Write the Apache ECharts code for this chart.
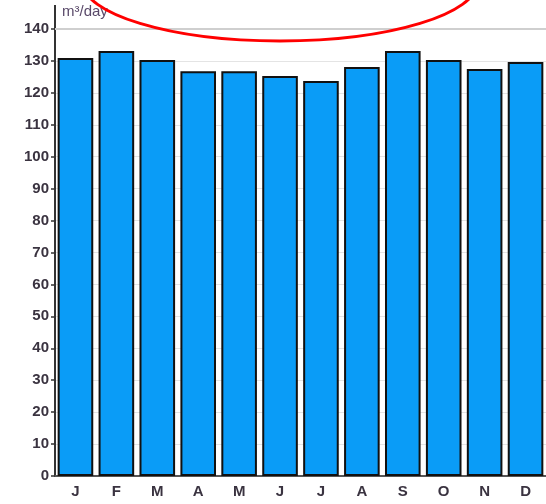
<!DOCTYPE html>
<html>
<head>
<meta charset="utf-8">
<script src="https://cdn.jsdelivr.net/npm/echarts@6/dist/echarts.min.js"></script>
<style>
  html, body { margin: 0; padding: 0; background: #fff; }
  #chart { width: 546px; height: 504px; }
</style>
</head>
<body>
<div id="chart"></div>
<script>
// monthly flow, m³/day
const months = ['J', 'F', 'M', 'A', 'M', 'J', 'J', 'A', 'S', 'O', 'N', 'D'];
const flow = [130.9, 133.1, 130.3, 126.8, 126.8, 125.3, 123.7, 128.1, 133.1, 130.3, 127.5, 129.7];
const yTicks = [0, 10, 20, 30, 40, 50, 60, 70, 80, 90, 100, 110, 120, 130, 140];

const chart = echarts.init(document.getElementById('chart'));

const labelFont = { color: '#3a3340', fontFamily: 'Arial, Liberation Sans', fontWeight: 'bold', fontSize: 15 };

const option = {
  animation: false,
  grid: { left: 55, top: 29, right: -4, bottom: 28, containLabel: false },
  xAxis: {
    type: 'category',
    data: months,
    axisLine: { lineStyle: { color: '#555', width: 2 } },
    axisTick: { show: false },
    axisLabel: Object.assign({ margin: 8 }, labelFont)
  },
  yAxis: {
    type: 'value',
    min: yTicks[0],
    max: yTicks[yTicks.length - 1],
    interval: 10,
    axisLine: { show: true, lineStyle: { color: '#333', width: 2 } },
    axisTick: { show: true, length: 4, lineStyle: { color: '#333', width: 1.5 } },
    axisLabel: Object.assign({ margin: 6 }, labelFont),
    splitLine: { show: true, lineStyle: { color: '#e4e4e4', width: 1 } }
  },
  series: [{
    type: 'bar',
    data: flow,
    barCategoryGap: '13%',
    itemStyle: { color: '#0a9cf7', borderColor: '#111', borderWidth: 2 },
    // the top line of the plot is a bit heavier
    markLine: {
      silent: true,
      symbol: 'none',
      label: { show: false },
      lineStyle: { color: '#cfcfcf', width: 2, type: 'solid' },
      data: [{ yAxis: yTicks[yTicks.length - 1] }]
    }
  }],
  graphic: [
    // axis continues above the 140 line
    { type: 'line', shape: { x1: 55, y1: 5, x2: 55, y2: 29 }, style: { stroke: '#333', lineWidth: 2 } },
    { type: 'text', left: 62, top: 4, style: { text: 'm³/day', fill: '#5a4a6a', font: '15px Arial, Liberation Sans' } },
    // red annotation ring
    { type: 'ellipse', shape: { cx: 280, cy: -19, rx: 198, ry: 60 }, style: { fill: 'none', stroke: '#ff0000', lineWidth: 3 }, z: 100 }
  ]
};

chart.setOption(option);
</script>
</body>
</html>
